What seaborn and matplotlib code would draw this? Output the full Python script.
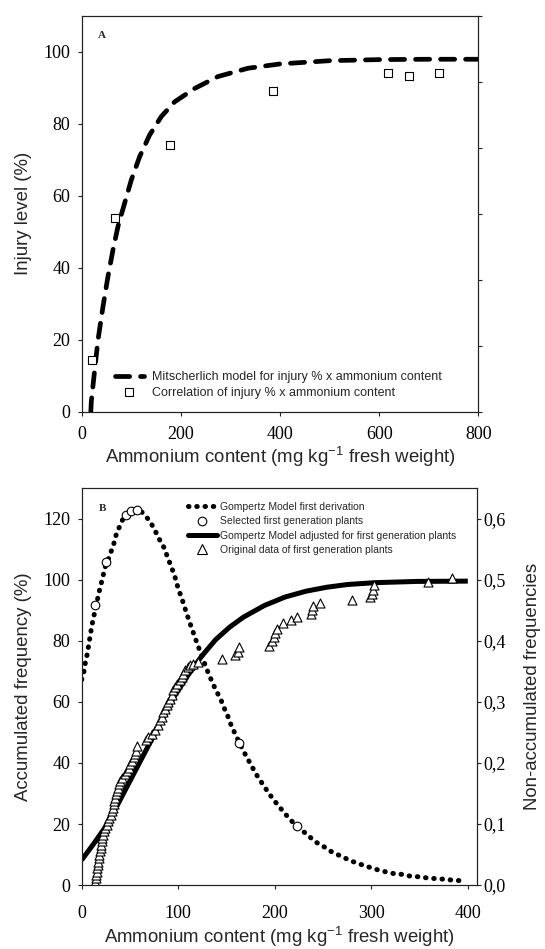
import matplotlib
matplotlib.use("Agg")
import matplotlib.pyplot as plt
import seaborn as sns
import pandas as pd
from matplotlib.lines import Line2D

# ---------------- Panel A data ----------------
mitsch_x = [18.4, 19.4, 26.2, 32.9, 43, 53, 63.1, 73.2, 86.7, 100.1, 117, 137.1, 160.6,
            187.6, 227.9, 274.9, 335.4, 400, 500, 600, 700, 800]
mitsch_y = [0, 2.9, 11.7, 20, 29.3, 37.6, 45, 51.5, 58, 64.4, 70.9, 76.9, 82,
            86.1, 89.8, 93.1, 95.4, 96.6, 97.5, 97.8, 97.9, 97.9]
injury_x = [21.4, 67.8, 178.7, 385.6, 617, 659.4, 720]
injury_y = [14.4, 53.8, 74.1, 89.2, 94.2, 93.2, 94.2]

# ---------------- Panel B data ----------------
gomp_x = [0, 12.6, 23.4, 37.8, 52.3, 66.7, 81.1, 95.5, 110, 124.3, 138.7, 153.2, 167.6,
          189.2, 210.8, 232.4, 254, 275.7, 304.5, 347.7, 400]
gomp_y = [8.2, 13.6, 18.5, 26.7, 35.5, 44.2, 52.9, 61.6, 68.7, 75, 80.4, 84.5, 87.8,
          91.6, 94.4, 96.3, 97.6, 98.5, 99.1, 99.5, 99.6]

orig_x = [14.0, 14.5, 15.0, 15.5, 16.0, 16.6, 17.2, 17.8, 18.4, 19.0, 19.6, 20.2, 20.8, 21.4,
          22.0, 23.2, 24.5, 25.8, 27.2, 28.6, 30.0, 31.2, 32.2, 33.0, 33.8, 34.6, 35.4, 36.4,
          37.2, 38.2, 39.6, 42.0, 44.5, 47.0, 48.5, 50.3, 52.0, 53.8, 55.0, 56.0, 57.0, 67.0,
          69.1, 72.6, 76.0, 79.5, 81.2, 83.0, 84.6, 86.4, 88.1, 89.8, 91.5, 93.3, 95.0, 96.7,
          98.5, 102.0, 103.7, 105.3, 107.1, 110.5, 112.3, 115.7, 120.9, 145.2, 159.0, 162.4,
          163.4, 194.5, 197.0, 198.7, 200.4, 202.2, 209.0, 216.7, 222.9, 237.7, 238.4, 240.0,
          247.0, 280.0, 299.0, 300.7, 301.7, 302.4, 358.7, 383.6]
orig_y = [1.1, 2.2, 3.3, 4.4, 5.5, 6.6, 7.7, 8.8, 9.9, 11.0, 12.1, 13.2, 14.3, 15.4,
          16.5, 17.6, 18.7, 19.8, 20.9, 22.0, 23.1, 24.2, 25.3, 26.4, 27.5, 28.6, 29.7, 30.8,
          31.9, 33.0, 34.1, 35.2, 36.3, 37.4, 38.5, 39.6, 40.7, 41.8, 42.9, 44.0, 45.5, 47.4,
          48.5, 49.6, 50.7, 52.4, 54.0, 55.1, 56.7, 57.8, 58.9, 60.0, 61.1, 62.2, 63.8, 64.9,
          66.0, 67.1, 68.2, 69.3, 70.4, 71.4, 72.0, 72.5, 73.1, 74.2, 75.3, 76.3,
          78.0, 78.5, 79.9, 81.3, 82.6, 84.0, 85.8, 86.9, 88.0, 88.9, 90.2, 91.6,
          92.4, 93.5, 94.3, 95.5, 96.8, 98.2, 99.3, 100.7]

deriv_x = [0, 2.4, 3.8, 5.8, 7.2, 8.6, 10, 11.7, 13.5, 15.5, 17.6, 19.7, 22.1, 23.8, 26, 28,
           30.7, 33.5, 35.9, 39.4, 42.8, 46.5, 51, 56, 61.8, 69.5, 75, 79.1, 84.3, 87.7, 91.2,
           94.7, 97.5, 99.8, 103.3, 106.1, 108.7, 111.5, 114.4, 117.4, 120.5, 123.6, 126.8,
           130, 133.3, 136.6, 140, 144.1, 147.5, 151.4, 154.8, 158.9, 163.4, 167.6, 172.4,
           177.3, 182.5, 188.3, 194.2, 200.7, 208, 215.2, 222.9, 233.3, 241.9, 251.2, 259.8,
           268.5, 277.5, 286.8, 295.5, 304.1, 314, 322.5, 331.5, 340.5, 349.5, 358.6, 366.8,
           375.9, 384.5, 393.5]
deriv_f = [0.3365, 0.3505, 0.3645, 0.379, 0.3925, 0.4065, 0.42, 0.4345, 0.447, 0.461, 0.4775,
           0.491, 0.506, 0.519, 0.5275, 0.5355, 0.5475, 0.5605, 0.575, 0.588, 0.600, 0.608,
           0.6135, 0.6155, 0.612, 0.5985, 0.5845, 0.570, 0.5565, 0.5425, 0.528, 0.5135,
           0.5005, 0.4865, 0.4715, 0.458, 0.445, 0.432, 0.419, 0.4055, 0.392, 0.3785, 0.365,
           0.352, 0.3395, 0.3275, 0.3165, 0.304, 0.2905, 0.2765, 0.262, 0.248, 0.233, 0.2195,
           0.2055, 0.1915, 0.177, 0.1635, 0.1495, 0.136, 0.122, 0.1085, 0.0965, 0.083, 0.071,
           0.0625, 0.0535, 0.0475, 0.0405, 0.035, 0.0305, 0.026, 0.022, 0.019, 0.0175, 0.0145,
           0.0135, 0.0115, 0.0105, 0.0095, 0.008, 0.007]
sel_x = [14.1, 25.5, 46.3, 50.8, 57.6, 163.4, 222.9]
sel_f = [0.459, 0.529, 0.6065, 0.6135, 0.615, 0.233, 0.0965]

left_ticks_A = [0, 20, 40, 60, 80, 100]
x_ticks_A = [0, 200, 400, 600, 800]
left_ticks_B = [0, 20, 40, 60, 80, 100, 120]
x_ticks_B = [0, 100, 200, 300, 400]
right_ticks_B = [0.0, 0.1, 0.2, 0.3, 0.4, 0.5, 0.6]
right_labels_B = ["0,0", "0,1", "0,2", "0,3", "0,4", "0,5", "0,6"]

legend_A = ["Mitscherlich model for injury % x ammonium content",
            "Correlation of injury % x ammonium content"]
legend_B = ["Gompertz Model first derivation",
            "Selected first generation plants",
            "Gompertz Model adjusted for first generation plants",
            "Original data of first generation plants"]
xlabel = "Ammonium content (mg kg$^{-1}$ fresh weight)"

# ---------------- style ----------------
sns.set_style("ticks")
plt.rcParams["font.family"] = ["Liberation Serif", "DejaVu Serif"]
plt.rcParams["mathtext.fontset"] = "custom"
plt.rcParams["mathtext.rm"] = "Liberation Sans"
plt.rcParams["mathtext.default"] = "regular"
plt.rcParams["axes.edgecolor"] = "#222222"
plt.rcParams["axes.linewidth"] = 0.8

SANS = "Liberation Sans"
TICK_FS = 13
LAB_FS = 13.4
INK = "black"
DOT_DASH = [0.1, 1.55]
DASH_A = [3.0, 2.3]
TRI_MS = 6.5

fig = plt.figure(figsize=(5.45, 9.49), dpi=100)
axA = fig.add_axes([0.1499, 0.5659, 0.7277, 0.4176])
axB = fig.add_axes([0.1499, 0.0674, 0.7262, 0.4180])


def style_ticks(ax, xpad):
    ax.tick_params(axis="both", which="major", direction="out", length=3.1, width=0.8,
                   colors="#222222", labelsize=TICK_FS, labelcolor="black")
    ax.tick_params(axis="y", pad=5)
    ax.tick_params(axis="x", top=False, pad=xpad)


# ---------------- Panel A ----------------
dfA = pd.DataFrame({"x": mitsch_x, "y": mitsch_y})
sns.lineplot(data=dfA, x="x", y="y", ax=axA, color=INK, linewidth=3.4,
             sort=False, estimator=None)
lnA = axA.lines[-1]
lnA.set_dashes(DASH_A)
lnA.set_dash_capstyle("round")

dfA2 = pd.DataFrame({"x": injury_x, "y": injury_y})
sns.scatterplot(data=dfA2, x="x", y="y", ax=axA, marker="s", s=5.5 ** 2,
                color="white", edgecolor="black", linewidth=0.8, zorder=3)

axA.set_xlim(0, 800)
axA.set_ylim(0, 110)
axA.set_xticks(x_ticks_A)
axA.set_yticks(left_ticks_A)
style_ticks(axA, 6.7)
axA.set_xlabel(xlabel, fontfamily=SANS, fontsize=LAB_FS, labelpad=1.7)
axA.set_ylabel("Injury level (%)", fontfamily=SANS, fontsize=LAB_FS, labelpad=8)
axA.text(0.052, 0.949, "A", transform=axA.transAxes, fontsize=8, fontweight="bold",
         ha="center", va="center")

axA2 = axA.twinx()
axA2.set_ylim(0, 6)
axA2.set_yticks([0, 1, 2, 3, 4, 5, 6])
axA2.set_yticklabels([])
axA2.tick_params(axis="y", direction="out", length=3.1, width=0.8, colors="#222222")

hA = [Line2D([0], [0], color=INK, lw=3.4, dashes=DASH_A, dash_capstyle="round"),
      Line2D([0], [0], marker="s", ls="none", mfc="white", mec="black", ms=5.5, mew=0.8)]
axA.legend(hA, legend_A, loc="lower left", bbox_to_anchor=(0.083, 0.033), frameon=False,
           prop={"family": SANS, "size": 9}, handlelength=2.35, handletextpad=0.64,
           labelspacing=0.31, borderpad=0, borderaxespad=0, numpoints=1)

# ---------------- Panel B ----------------
dfG = pd.DataFrame({"x": gomp_x, "y": gomp_y})
sns.lineplot(data=dfG, x="x", y="y", ax=axB, color=INK, linewidth=3.6,
             sort=False, estimator=None)
axB.lines[-1].set_solid_capstyle("butt")

dfO = pd.DataFrame({"x": orig_x, "y": orig_y})
sns.scatterplot(data=dfO, x="x", y="y", ax=axB, marker="^", s=TRI_MS ** 2,
                color="white", edgecolor="black", linewidth=0.8, zorder=3)

axB.set_xlim(0, 410)
axB.set_ylim(0, 130)
axB.set_xticks(x_ticks_B)
axB.set_yticks(left_ticks_B)
style_ticks(axB, 11.4)
axB.set_xlabel(xlabel, fontfamily=SANS, fontsize=LAB_FS, labelpad=1.7)
axB.set_ylabel("Accumulated frequency (%)", fontfamily=SANS, fontsize=LAB_FS, labelpad=8)

axB2 = axB.twinx()
dfD = pd.DataFrame({"x": deriv_x, "y": deriv_f})
sns.lineplot(data=dfD, x="x", y="y", ax=axB2, color=INK, linewidth=3.6,
             sort=False, estimator=None)
lnD = axB2.lines[-1]
lnD.set_dashes(DOT_DASH)
lnD.set_dash_capstyle("round")

dfS = pd.DataFrame({"x": sel_x, "y": sel_f})
sns.scatterplot(data=dfS, x="x", y="y", ax=axB2, marker="o", s=6.2 ** 2,
                color="white", edgecolor="black", linewidth=0.8, zorder=4)

axB2.set_ylim(0, 0.65)
axB2.set_yticks(right_ticks_B)
axB2.set_yticklabels(right_labels_B)
axB2.tick_params(axis="y", direction="out", length=3.1, width=0.8, colors="#222222",
                 labelsize=TICK_FS, labelcolor="black", pad=1.5)
axB2.set_ylabel("Non-accumulated frequencies", fontfamily=SANS, fontsize=LAB_FS,
                labelpad=13)
axB2.set_xlim(0, 410)
axB.text(0.052, 0.948, "B", transform=axB.transAxes, fontsize=8, fontweight="bold",
         ha="center", va="center")

hB = [Line2D([0], [0], color=INK, lw=3.6, dashes=DOT_DASH, dash_capstyle="round"),
      Line2D([0], [0], marker="o", ls="none", mfc="white", mec="black", ms=6.2, mew=0.8),
      Line2D([0], [0], color=INK, lw=3.6),
      Line2D([0], [0], marker="^", ls="none", mfc="white", mec="black", ms=TRI_MS, mew=0.8)]
axB2.legend(hB, legend_B, loc="upper left", bbox_to_anchor=(0.268, 0.966), frameon=False,
            prop={"family": SANS, "size": 7.5}, handlelength=2.8, handletextpad=0.26,
            labelspacing=0.42, borderpad=0, borderaxespad=0, numpoints=1)

fig.savefig("out.png", dpi=100, facecolor="white")
